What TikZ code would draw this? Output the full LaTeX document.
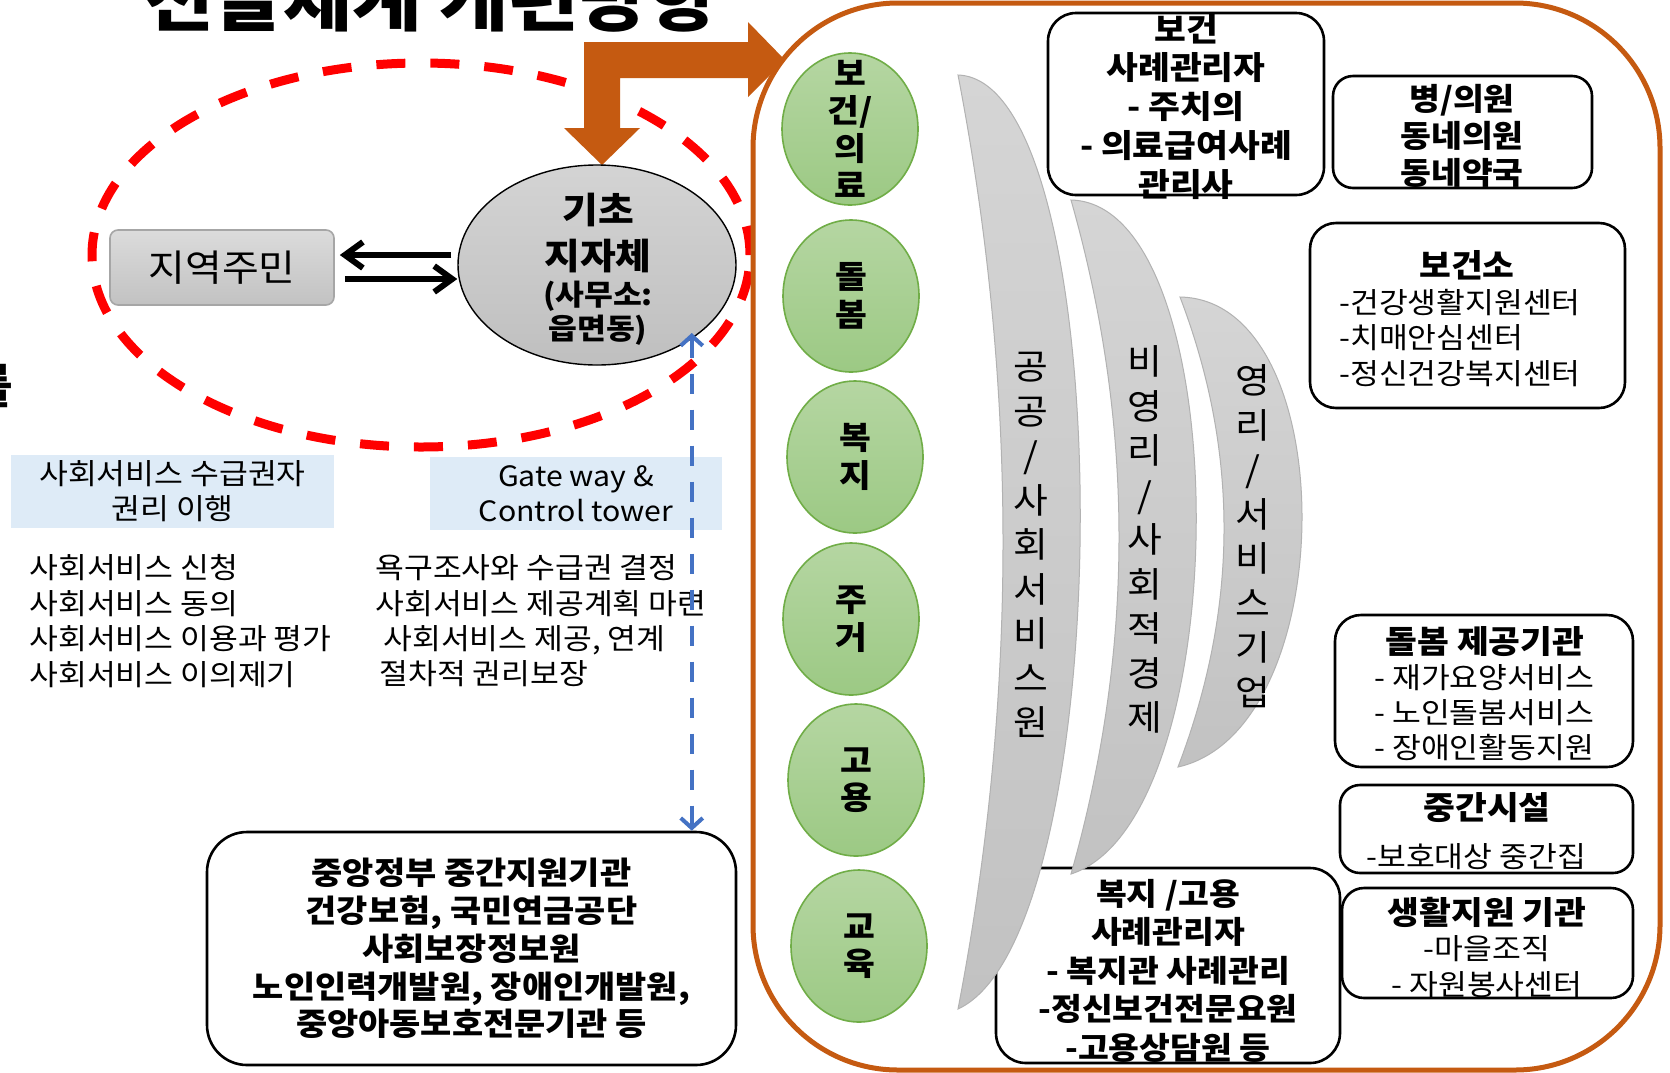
\documentclass[tikz,border=0pt]{standalone}
\usepackage{fontspec}
\setmainfont{Noto Sans CJK KR}[FakeStretch=1.08]
\usetikzlibrary{arrows.meta,shapes.geometric,positioning}

\definecolor{rustorange}{HTML}{C55A11}
\definecolor{gatewayblue}{HTML}{4472C4}
\definecolor{paleblue}{HTML}{DEEBF7}
\definecolor{leafgreen}{HTML}{70AD47}
\definecolor{greentop}{HTML}{B5D6A2}
\definecolor{greenbot}{HTML}{9CC984}

\newcommand{\fsz}[2]{\fontsize{#1}{#2}\selectfont}

\begin{document}
\begin{tikzpicture}[x=0.5pt,y=-0.5pt,
		area/.style={ellipse,draw=leafgreen,line width=0.8pt,top color=greentop,bottom color=greenbot,minimum width=68pt,minimum height=76pt,inner sep=0},
		area text/.style={align=center,font=\bfseries\fsz{16}{18.75},inner sep=0},
		blade/.style={draw=gray!60,line width=0.5pt,top color=gray!33,bottom color=gray!48},
		blade text/.style={align=center,font=\fsz{17.5}{22.25},inner sep=0},
		org box/.style={draw,line width=1.3pt,rounded corners=13pt,fill=white,inner sep=0},
		org text/.style={align=center,font=\bfseries\fsz{16}{19.4},inner sep=0},
		item list/.style={align=left,font=\fsz{14.5}{17.7},inner sep=0},
		role box/.style={fill=paleblue,align=center,font=\fsz{14.5}{17.5},inner sep=0,minimum height=36.5pt},
		flow/.style={line width=3pt,-{Straight Barb[length=9pt,width=13pt]}},
		gateway/.style={draw=gatewayblue,line width=2pt,dash pattern=on 10pt off 8pt,{Straight Barb[length=5pt,width=11pt]}-{Straight Barb[length=5pt,width=11pt]}}]
		\path[use as bounding box,fill=white] (0,0) rectangle (1670,1072);
		% 제목
		\node[anchor=base,font=\bfseries\fsz{35}{40},inner sep=0] (title) at (431,25) {전달체계 개편방향};
		\node[anchor=base east,font=\bfseries\fsz{23.5}{28},inner sep=0] (cutword) at (14,403) {를};
		% 지역 단위
		\node[ellipse,draw=red,line width=4.5pt,dash pattern=on 14.5pt off 12.5pt,minimum width=329pt,minimum height=192pt] (region) at (421,255) {};
		\fill[rustorange] (584,42) -- (748,42) -- (748,22) -- (785,60) -- (748,97) -- (748,78) -- (620,78) -- (620,128) -- (640,128) -- (602,165) -- (564,128) -- (584,128) -- cycle;
		\node[draw=gray!70,line width=0.8pt,rounded corners=4pt,top color=gray!28,bottom color=gray!48,minimum width=112pt,minimum height=37.5pt,inner sep=0,font=\fsz{18.5}{22}] (jumin) at (222,267.5) {지역주민};
		\node[ellipse,draw,line width=0.7pt,top color=gray!34,bottom color=gray!50,minimum width=139pt,minimum height=100pt,inner sep=0] (kicho) at (597,265) {};
		\node[align=center,font=\bfseries\fsz{18}{23},inner sep=0] (kicho-a) at (598,233) {기초\\지자체};
		\node[align=center,font=\bfseries\fsz{14.5}{17},inner sep=0] (kicho-b) at (598,313) {(사무소:\\읍면동)};
		\draw[flow,shorten <=3pt,shorten >=2.5pt] ([yshift=5pt]kicho.west) -- ([yshift=5pt]kicho.west -| jumin.east);
		\draw[flow,shorten <=5pt] ([yshift=-7pt]kicho.west -| jumin.east) -- ([yshift=-7pt]kicho.west);
		% 역할
		\node[role box,minimum width=161.5pt] (rights) at (172.5,491.5) {사회서비스 수급권자\\권리 이행};
		\node[role box,minimum width=146pt,font=\fsz{14}{17.5}] (gatebox) at (576,493.5) {Gate way \&\\Control tower};
		\node[item list,anchor=west] (apply) at (29,621) {사회서비스 신청\\사회서비스 동의\\사회서비스 이용과 평가\\사회서비스 이의제기};
		\node[item list,anchor=west] (assess) at (375,621) {욕구조사와 수급권 결정\\사회서비스 제공계획 마련\\\hspace*{4pt}사회서비스 제공, 연계\\\hspace*{2pt}절차적 권리보장};
		\node[org box,rounded corners=20pt,minimum width=264.5pt,minimum height=116.5pt,align=center,font=\bfseries\fsz{15.7}{18.9}] (central) at (471.5,948.5) {중앙정부 중간지원기관\\건강보험, 국민연금공단\\사회보장정보원\\노인인력개발원, 장애인개발원,\\중앙아동보호전문기관 등};
		\draw[gateway,shorten <=-3pt] (kicho.-38) -- (kicho.-38 |- central.north);
		% 서비스 영역
		\node[draw=rustorange,line width=2.5pt,rounded corners=72.5pt,minimum width=453.5pt,minimum height=533.5pt,inner sep=0] (svcframe) at (1206.5,536.5) {};
		\node[area] (health) at (850,129) {};
		\node[area] (care) at (851,296) {};
		\node[area] (welfare) at (855,457) {};
		\node[area] (housing) at (851,619) {};
		\node[area] (jobs) at (856,780) {};
		\node[area] (edu) at (859,946) {};
		\node[area text] (health-t) at (health) {보\\건/\\의\\료};
		\node[area text] (care-t) at (care) {돌\\봄};
		\node[area text] (welfare-t) at (welfare) {복\\지};
		\node[area text] (housing-t) at (housing) {주\\거};
		\node[area text] (jobs-t) at (jobs) {고\\용};
		\node[area text] (edu-t) at (edu) {교\\육};
		\node[org box,rounded corners=15pt,minimum width=172pt,minimum height=97.5pt] (casework) at (1168,965.5) {};
		% 제공 주체
		\path[blade] (958,75) .. controls (1121,80) and (1121,934) .. (958,1009) .. controls (1018,698) and (1018,386) .. cycle;
		\path[blade] (1071,200) .. controls (1238,204) and (1238,820) .. (1071,874) .. controls (1135,649) and (1135,425) .. cycle;
		\path[blade] (1180,297) .. controls (1344,300) and (1342,730) .. (1178,767) .. controls (1238,610) and (1240,454) .. cycle;
		\node[blade text] (public-t) at (1031,545) {공\\공\\/\\사\\회\\서\\비\\스\\원};
		\node[blade text] (nonprofit-t) at (1145,539.5) {비\\영\\리\\/\\사\\회\\적\\경\\제};
		\node[blade text] (profit-t) at (1253,536) {영\\리\\/\\서\\비\\스\\기\\업};
		% 기관
		\node[org box,rounded corners=14pt,minimum width=138pt,minimum height=91pt] (medcase) at (1186,104) {};
		\node[org box,rounded corners=10pt,minimum width=129.5pt,minimum height=56pt] (clinic) at (1462.5,132) {};
		\node[org box,minimum width=157.5pt,minimum height=92.5pt] (phc) at (1467.5,315.5) {};
		\node[org box,minimum width=149pt,minimum height=76pt] (carepro) at (1484,691) {};
		\node[org box,rounded corners=10pt,minimum width=146.5pt,minimum height=44pt] (midfac) at (1486.5,829) {};
		\node[org box,rounded corners=11pt,minimum width=145.5pt,minimum height=55pt] (lifesup) at (1487.5,943) {};
		\node[org text] (medcase-t) at (1186,106.8) {보건\\사례관리자\\- 주치의\\- 의료급여사례\\관리사};
		\node[org text,font=\bfseries\fsz{15.5}{18.5}] (clinic-t) at (1462,135.7) {병/의원\\동네의원\\동네약국};
		\node[org text] (phc-t) at (1467,265) {보건소};
		\node[item list,anchor=west,font=\fsz{14.5}{17.75}] (phc-l) at (1339,337.7) {-건강생활지원센터\\-치매안심센터\\-정신건강복지센터};
		\node[org text] (carepro-t) at (1485,642) {돌봄 제공기관};
		\node[item list,anchor=west,font=\fsz{14.5}{17.5}] (carepro-l) at (1374,713) {- 재가요양서비스\\- 노인돌봄서비스\\- 장애인활동지원};
		\node[org text] (midfac-t) at (1487,808) {중간시설};
		\node[item list,anchor=west] (midfac-l) at (1366,857) {-보호대상 중간집};
		\node[align=center,font=\fsz{14.5}{17.75},inner sep=0] (lifesup-t) at (1487,947.5) {{\bfseries\fsz{16}{18}생활지원 기관}\\-마을조직\\- 자원봉사센터};
		\node[org text,font=\bfseries\fsz{15.5}{19.25}] (casework-t) at (1168,970.8) {복지 /고용\\사례관리자\\- 복지관 사례관리\\-정신보건전문요원\\-고용상담원 등};
\end{tikzpicture}
\end{document}
